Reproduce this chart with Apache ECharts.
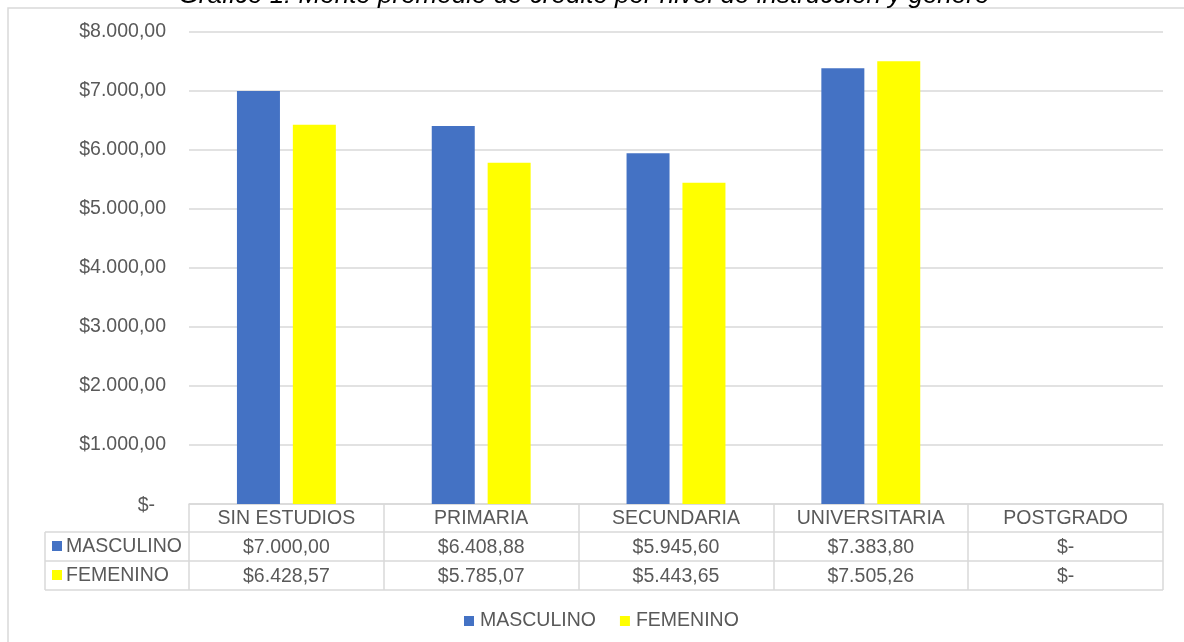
<!DOCTYPE html>
<html><head><meta charset="utf-8">
<script src="https://cdn.jsdelivr.net/npm/echarts@6/dist/echarts.min.js"></script>
<style>html,body{margin:0;padding:0;background:#fff}#c{width:1184px;height:642px}</style>
</head><body><div id="c"></div>
<script>
const categories = ['SIN ESTUDIOS', 'PRIMARIA', 'SECUNDARIA', 'UNIVERSITARIA', 'POSTGRADO'];
const masculino = [7000.00, 6408.88, 5945.60, 7383.80, 0];
const femenino = [6428.57, 5785.07, 5443.65, 7505.26, 0];
const seriesNames = ['MASCULINO', 'FEMENINO'];
const yTicks = { min: 0, max: 8000, interval: 1000 };
const titleText = 'Gráfico 1: Monto promedio de crédito por nivel de instrucción y género';

function fmt(v) {
  if (!v) return '$-';
  const parts = v.toFixed(2).split('.');
  const intPart = parts[0].replace(/\B(?=(\d{3})+(?!\d))/g, '.');
  return '$' + intPart + ',' + parts[1];
}

const FONT = 'Liberation Sans, Arial, sans-serif';
const FS = 19.5;
const TXT = '#595959';
const LINE = '#d9d9d9';
const BLUE = '#4472C4';
const YELLOW = '#FFFF00';

const chart = echarts.init(document.getElementById('c'), null, { renderer: 'canvas' });
chart.setOption({
  backgroundColor: '#fff',
  animation: false,
  textStyle: { fontFamily: FONT },
  grid: { left: 189, right: 21, top: 32, bottom: 138, containLabel: false },
  legend: {
    data: seriesNames,
    bottom: 6,
    left: 459,
    icon: 'rect',
    itemWidth: 10,
    itemHeight: 10,
    itemGap: 24,
    textStyle: { color: TXT, fontSize: FS, fontFamily: FONT, padding: [0, 0, 0, 1] }
  },
  xAxis: {
    type: 'category',
    data: categories,
    axisLine: { show: true, lineStyle: { color: LINE, width: 1.5 } },
    axisTick: { show: true, length: 86, lineStyle: { color: LINE, width: 1.5 } },
    axisLabel: {
      margin: 0,
      interval: 0,
      formatter: function (value, index) {
        return '{h|' + value + '}\n{v|' + fmt(masculino[index]) + '}\n{v|' + fmt(femenino[index]) + '}';
      },
      rich: {
        h: { fontSize: FS, color: TXT, fontFamily: FONT, lineHeight: 29, height: 29 },
        v: { fontSize: FS, color: TXT, fontFamily: FONT, lineHeight: 29, height: 29 }
      }
    }
  },
  yAxis: {
    type: 'value',
    min: yTicks.min,
    max: yTicks.max,
    interval: yTicks.interval,
    axisLine: { show: false },
    axisTick: { show: false },
    splitLine: { lineStyle: { color: LINE, width: 1.5 } },
    axisLabel: {
      margin: 23,
      color: TXT,
      fontSize: FS,
      fontFamily: FONT,
      formatter: function (v) { return v === 0 ? '{z|$-}' : fmt(v); },
      rich: { z: { fontSize: FS, color: TXT, fontFamily: FONT, padding: [4, 11, 0, 0] } }
    }
  },
  series: [
    { name: seriesNames[0], type: 'bar', data: masculino, barWidth: 43, barGap: '30%',
      itemStyle: { color: BLUE } },
    { name: seriesNames[1], type: 'bar', data: femenino, barWidth: 43, barGap: '30%',
      itemStyle: { color: YELLOW } }
  ],
  graphic: [
    { type: 'rect', shape: { x: 8, y: 8, width: 1300, height: 800 }, style: { fill: null, stroke: LINE, lineWidth: 1.5 }, silent: true, z: -1 },
    { type: 'text', x: 584, y: 9, style: { text: titleText, fill: '#000', font: 'italic 26px ' + FONT, align: 'center', verticalAlign: 'bottom' }, z: 10 },
    { type: 'line', shape: { x1: 45, y1: 532, x2: 1163, y2: 532 }, style: { stroke: LINE, lineWidth: 1.5 } },
    { type: 'line', shape: { x1: 45, y1: 561, x2: 1163, y2: 561 }, style: { stroke: LINE, lineWidth: 1.5 } },
    { type: 'line', shape: { x1: 45, y1: 590, x2: 1163, y2: 590 }, style: { stroke: LINE, lineWidth: 1.5 } },
    { type: 'line', shape: { x1: 45, y1: 532, x2: 45, y2: 590 }, style: { stroke: LINE, lineWidth: 1.5 } },
    { type: 'rect', shape: { x: 52, y: 541, width: 10, height: 10 }, style: { fill: BLUE } },
    { type: 'text', x: 66, y: 546.5, style: { text: seriesNames[0], fill: TXT, font: FS + 'px ' + FONT, verticalAlign: 'middle' } },
    { type: 'rect', shape: { x: 52, y: 570, width: 10, height: 10 }, style: { fill: YELLOW } },
    { type: 'text', x: 66, y: 575.5, style: { text: seriesNames[1], fill: TXT, font: FS + 'px ' + FONT, verticalAlign: 'middle' } }
  ]
});
</script></body></html>
